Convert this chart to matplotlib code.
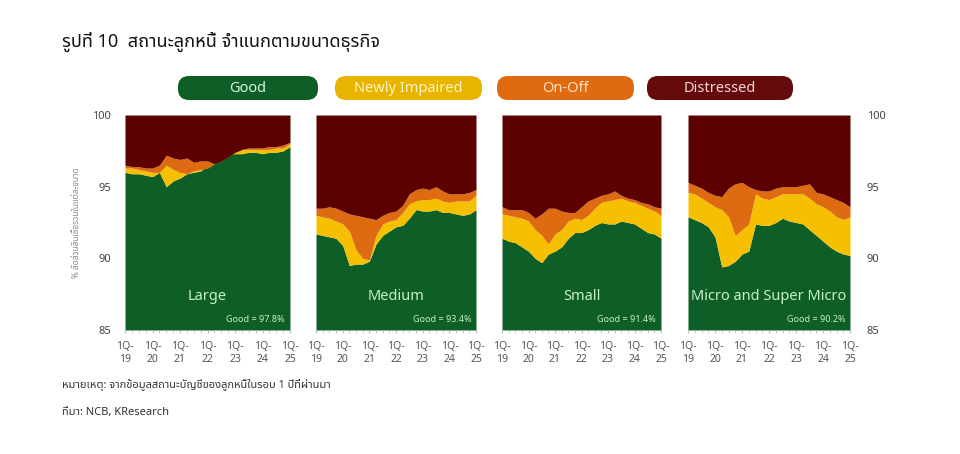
import matplotlib
matplotlib.use("Agg")
import matplotlib.pyplot as plt
from matplotlib.patches import FancyBboxPatch
import numpy as np

plt.rcParams['font.family'] = ['Noto Sans Thai', 'Loma', 'Garuda', 'Noto Sans', 'DejaVu Sans']

segments = ["Large", "Medium", "Small", "Micro and Super Micro"]
good_labels = ["Good = 97.8%", "Good = 93.4%", "Good = 91.4%", "Good = 90.2%"]
tick_labels = ["1Q-\n19", "1Q-\n20", "1Q-\n21", "1Q-\n22", "1Q-\n23", "1Q-\n24", "1Q-\n25"]
yticks = [85, 90, 95, 100]

good = {
    "Large": [96.0, 95.9, 95.9, 95.8, 95.7, 96.0, 95.0, 95.4, 95.6, 95.9, 96.0, 96.1, 96.5, 96.8, 97.1, 97.3, 97.3, 97.3, 97.4, 97.4, 97.3, 97.4, 97.4, 97.5, 97.8],
    "Medium": [91.7, 91.6, 91.5, 91.4, 90.9, 89.5, 89.6, 89.6, 89.8, 91.0, 91.6, 91.9, 92.2, 92.3, 92.8, 93.4, 93.3, 93.3, 93.4, 93.2, 93.2, 93.1, 93.0, 93.1, 93.4],
    "Small": [91.4, 91.2, 91.1, 90.8, 90.5, 90.0, 89.7, 90.3, 90.5, 90.8, 91.4, 91.8, 91.8, 92.0, 92.3, 92.5, 92.4, 92.4, 92.6, 92.5, 92.4, 92.1, 91.8, 91.7, 91.4],
    "Micro and Super Micro": [92.9, 92.7, 92.5, 92.2, 91.5, 89.4, 89.5, 89.8, 90.3, 90.5, 92.4, 92.3, 92.3, 92.5, 92.8, 92.6, 92.5, 92.4, 92.0, 91.6, 91.2, 90.8, 90.5, 90.3, 90.2],
}
good_plus_new = {
    "Large": [96.3, 96.3, 96.2, 96.1, 96.0, 96.0, 96.5, 96.2, 96.0, 95.9, 96.1, 96.2, 96.3, 96.6, 97.0, 97.3, 97.5, 97.6, 97.6, 97.6, 97.6, 97.6, 97.7, 97.7, 98.0],
    "Medium": [93.0, 92.9, 92.8, 92.6, 92.4, 91.9, 90.6, 90.0, 89.9, 91.6, 92.4, 92.6, 92.7, 93.2, 93.8, 94.0, 94.1, 94.1, 94.2, 94.0, 93.9, 94.0, 94.0, 94.0, 94.4],
    "Small": [93.1, 93.0, 92.9, 92.8, 92.6, 92.0, 91.6, 91.0, 91.7, 92.0, 92.6, 92.8, 92.7, 93.0, 93.5, 93.9, 94.0, 94.1, 94.2, 94.0, 93.9, 93.7, 93.5, 93.3, 93.0],
    "Micro and Super Micro": [94.6, 94.5, 94.2, 93.9, 93.6, 93.4, 92.9, 91.6, 92.0, 92.4, 94.5, 94.2, 94.1, 94.3, 94.5, 94.5, 94.5, 94.5, 94.2, 93.8, 93.6, 93.3, 92.9, 92.7, 92.9],
}
good_new_onoff = {
    "Large": [96.5, 96.4, 96.4, 96.3, 96.3, 96.5, 97.2, 97.0, 96.9, 97.0, 96.7, 96.8, 96.8, 96.6, 96.8, 97.1, 97.4, 97.6, 97.7, 97.7, 97.7, 97.8, 97.8, 97.9, 98.1],
    "Medium": [93.5, 93.5, 93.6, 93.5, 93.3, 93.1, 93.0, 92.9, 92.8, 92.7, 93.0, 93.2, 93.3, 93.7, 94.5, 94.8, 94.9, 94.8, 95.0, 94.7, 94.5, 94.5, 94.5, 94.6, 94.8],
    "Small": [93.6, 93.4, 93.4, 93.4, 93.2, 92.8, 93.1, 93.5, 93.5, 93.3, 93.2, 93.2, 93.6, 94.0, 94.2, 94.4, 94.5, 94.7, 94.4, 94.2, 94.1, 93.9, 93.8, 93.6, 93.5],
    "Micro and Super Micro": [95.3, 95.1, 94.9, 94.6, 94.4, 94.3, 94.9, 95.2, 95.3, 95.0, 94.8, 94.7, 94.7, 94.9, 95.0, 95.0, 95.0, 95.1, 95.2, 94.6, 94.5, 94.3, 94.1, 93.9, 93.6],
}

C_GOOD = "#0d5e27"
C_NEW = "#f6c000"
C_ONOFF = "#de6b12"
C_DIS = "#5c0000"

fig = plt.figure(figsize=(9.6, 4.54), dpi=100)
W, H = 960, 454
lefts = [125, 316, 502, 688]
widths = [165, 160, 159, 162]
top, bottom = 115, 330

x = np.arange(25)
for i, seg in enumerate(segments):
    ax = fig.add_axes([lefts[i] / W, 1 - bottom / H, widths[i] / W, (bottom - top) / H])
    g = np.array(good[seg]); gn = np.array(good_plus_new[seg]); go = np.array(good_new_onoff[seg])
    ax.fill_between(x, 85, g, color=C_GOOD, lw=0)
    ax.fill_between(x, g, gn, color=C_NEW, lw=0)
    ax.fill_between(x, gn, go, color=C_ONOFF, lw=0)
    ax.fill_between(x, go, 100, color=C_DIS, lw=0)
    ax.set_xlim(0, 24); ax.set_ylim(85, 100)
    for s in ax.spines.values():
        s.set_visible(False)
    ax.set_xticks(np.arange(0, 25, 4))
    ax.set_xticklabels(tick_labels, fontsize=7.5, color="#555555")
    ax.set_xticks(np.arange(0, 25, 1), minor=True)
    ax.tick_params(axis='x', which='both', length=2, color="#bbbbbb", pad=6)
    ax.set_yticks(yticks)
    if i == 0:
        ax.set_yticklabels([str(v) for v in yticks], fontsize=8, color="#444444")
        ax.tick_params(axis='y', length=0, pad=10)
        ax.set_ylabel("% สัดส่วนสินเชื่อรวมในแต่ละขนาด", fontsize=6, color="#888888", labelpad=8)
    elif i == 3:
        ax.yaxis.tick_right()
        ax.set_yticklabels([str(v) for v in yticks], fontsize=8, color="#444444")
        ax.tick_params(axis='y', length=0, pad=12)
    else:
        ax.set_yticklabels([])
        ax.tick_params(axis='y', length=0)
    ax.text(0.5, 0.12, seg, transform=ax.transAxes, ha='center', va='bottom', color="#c8f0c8", fontsize=10.5)
    ax.text(0.97, 0.03, good_labels[i], transform=ax.transAxes, ha='right', va='bottom', color="#c8f0c8", fontsize=6.5)

# legend pills on an overlay axes in pixel units
ov = fig.add_axes([0, 0, 1, 1], zorder=-1)
ov.set_xlim(0, W); ov.set_ylim(H, 0); ov.axis('off')
pills = [("Good", 178, 318, C_GOOD, "#d8f5d8"), ("Newly Impaired", 335, 482, "#e8b400", "#fff6c0"),
         ("On-Off", 497, 634, "#df6a10", "#ffe0c0"), ("Distressed", 647, 793, "#650a0a", "#f5d5d5")]
for lab, x0, x1, fc, tc in pills:
    p = FancyBboxPatch((x0 + 11, 76), (x1 - x0) - 22, 24 - 0.01,
                       boxstyle="round,pad=0,rounding_size=11", facecolor=fc, edgecolor='none')
    p.set_boxstyle("round", pad=0, rounding_size=11)
    ov.add_patch(FancyBboxPatch((x0, 76), (x1 - x0), 24, boxstyle="round,pad=0,rounding_size=11",
                                facecolor=fc, edgecolor='none'))
    ov.text((x0 + x1) / 2, 88, lab, ha='center', va='center', color=tc, fontsize=10.5)

fig.text(62 / W, 1 - 42 / H, "รูปที่ 10  สถานะลูกหนี้ จำแนกตามขนาดธุรกิจ", fontsize=13, fontweight='bold', va='center', color="#111111")
fig.text(62 / W, 1 - 385 / H, "หมายเหตุ: จากข้อมูลสถานะบัญชีของลูกหนี้ในรอบ 1 ปีที่ผ่านมา", fontsize=8, va='center', color="#333333")
fig.text(62 / W, 1 - 412 / H, "ที่มา: NCB, KResearch", fontsize=8, va='center', color="#333333")

fig.savefig("out.png", dpi=100, facecolor="white")
